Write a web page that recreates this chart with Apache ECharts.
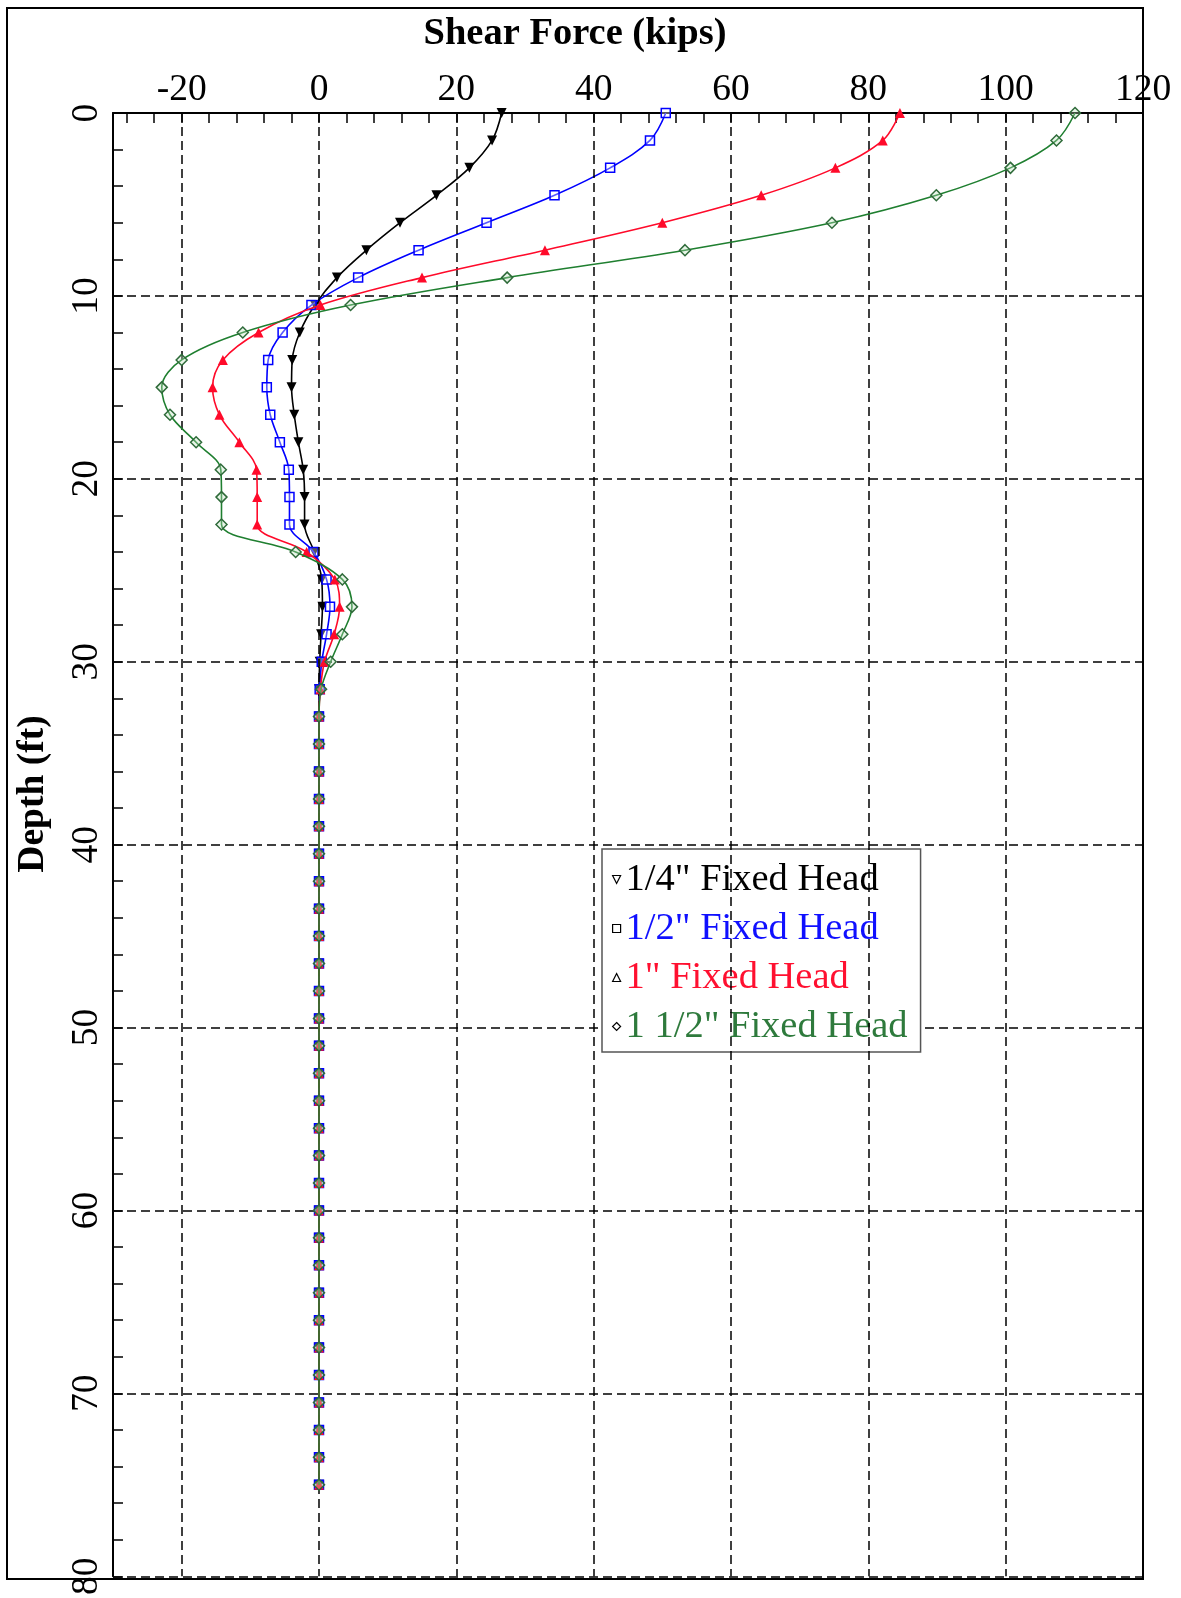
<!DOCTYPE html>
<html>
<head>
<meta charset="utf-8">
<script src="https://cdn.jsdelivr.net/npm/echarts@6/dist/echarts.min.js"></script>
<style>
html,body{margin:0;padding:0;background:#fff;}
#chart{width:1181px;height:1598px;}
</style>
</head>
<body>
<div id="chart"></div>
<script>
// ---- data ----
const depths = [0,1.5,3,4.5,6,7.5,9,10.5,12,13.5,15,16.5,18,19.5,21,22.5,24,25.5,27,28.5,30,31.5,33,34.5,36,37.5,39,40.5,42,43.5,45,46.5,48,49.5,51,52.5,54,55.5,57,58.5,60,61.5,63,64.5,66,67.5,69,70.5,72,73.5,75];

const quarterInch = [26.6,25.2,21.9,17.1,11.8,6.9,2.6,-0.6,-2.8,-3.9,-4.0,-3.6,-3.0,-2.3,-2.1,-2.1,-0.7,0.4,0.5,0.3,0.1,0.0,
  0,0,0,0,0,0,0,0,0,0,0,0,0,0,0,0,0,0,0,0,0,0,0,0,0,0,0,0,0];
const halfInch = [50.5,48.2,42.4,34.3,24.4,14.5,5.7,-1.1,-5.3,-7.4,-7.6,-7.1,-5.7,-4.4,-4.3,-4.3,-0.8,1.1,1.6,1.1,0.4,0.1,
  0,0,0,0,0,0,0,0,0,0,0,0,0,0,0,0,0,0,0,0,0,0,0,0,0,0,0,0,0];
const oneInch = [84.6,82.1,75.2,64.4,50.0,32.9,15.0,0.2,-8.8,-14.0,-15.5,-14.5,-11.6,-9.1,-9.0,-9.0,-1.8,2.3,3.0,2.2,0.8,0.2,
  0,0,0,0,0,0,0,0,0,0,0,0,0,0,0,0,0,0,0,0,0,0,0,0,0,0,0,0,0];
const oneHalfInch = [110.1,107.4,100.7,89.9,74.7,53.3,27.4,4.6,-11.1,-20.0,-22.9,-21.7,-17.9,-14.3,-14.2,-14.2,-3.4,3.4,4.8,3.4,1.7,0.3,
  0,0,0,0,0,0,0,0,0,0,0,0,0,0,0,0,0,0,0,0,0,0,0,0,0,0,0,0,0];

const seriesNames = ['1/4" Fixed Head','1/2" Fixed Head','1" Fixed Head','1 1/2" Fixed Head'];

const xLabelValues = [-20,0,20,40,60,80,100,120];
const xTickValues = [-28,-24,-20,-16,-12,-8,-4,0,4,8,12,16,20,24,28,32,36,40,44,48,52,56,60,64,68,72,76,80,84,88,92,96,100,104,108,112,116];
const xGridValues = [-20,0,20,40,60,80,100];

const xTitle = 'Shear Force (kips)';
const yTitle = 'Depth (ft)';

// ---- chart ----
const FONT = '"Liberation Serif", "Times New Roman", serif';
const pairs = vals => depths.map((d,i)=>[vals[i], d]);
const dash = [9,5];

const chart = echarts.init(document.getElementById('chart'), null, {renderer:'canvas'});

const commonSeries = {
  type:'line', smooth:0.35, animation:false, clip:true, showAllSymbol:true
};

const option = {
  backgroundColor:'#fff',
  animation:false,
  grid:{left:113, top:113, width:1030, height:1466, containLabel:false},
  graphic:[
    {type:'rect', z:-1, silent:true, shape:{x:7, y:8, width:1136, height:1571},
     style:{fill:null, stroke:'#000', lineWidth:2}},
    {type:'text', x:575, y:34, silent:true,
     style:{text:xTitle, font:'bold 38.5px ' + FONT, fill:'#000', align:'center', verticalAlign:'middle'}},
    {type:'text', x:33, y:794, rotation:Math.PI/2, silent:true,
     style:{text:yTitle, font:'bold 37.5px ' + FONT, fill:'#000', align:'center', verticalAlign:'middle'}}
  ],
  xAxis:{
    type:'value', position:'top', min:-30, max:120,
    axisLine:{show:true, onZero:false, lineStyle:{color:'#000', width:2}},
    axisTick:{show:true, inside:true, length:10, customValues:xTickValues, lineStyle:{color:'#000', width:1.5}},
    axisLabel:{show:true, customValues:xLabelValues, margin:4, color:'#000', fontSize:37.5, fontFamily:FONT},
    splitLine:{show:false}
  },
  yAxis:{
    type:'value', inverse:true, min:0, max:80, interval:10,
    axisLine:{show:true, onZero:false, lineStyle:{color:'#000', width:2}},
    axisTick:{show:true, inside:true, length:10, lineStyle:{color:'#000', width:1.5}},
    minorTick:{show:true, splitNumber:5, length:10, lineStyle:{color:'#000', width:1.5}},
    axisLabel:{rotate:90, margin:7, color:'#000', fontSize:37.5, fontFamily:FONT},
    splitLine:{show:true, lineStyle:{color:'#000', width:1.5, type:dash}}
  },
  legend:{
    orient:'vertical', left:602, top:849,
    padding:[11,13,6,10], itemGap:10, itemWidth:8, itemHeight:8,
    backgroundColor:'#fff', borderColor:'#555', borderWidth:1.5,
    textStyle:{fontSize:38.5, fontFamily:FONT},
    data:[
      {name:seriesNames[0], icon:'path://M0,0L10,0L5,10Z', itemStyle:{color:'#fff', borderColor:'#000', borderWidth:1.2}, textStyle:{color:'#000'}},
      {name:seriesNames[1], icon:'rect', itemStyle:{color:'#fff', borderColor:'#000', borderWidth:1.2}, textStyle:{color:'#1010ff'}},
      {name:seriesNames[2], icon:'triangle', itemStyle:{color:'#fff', borderColor:'#000', borderWidth:1.2}, textStyle:{color:'#ff1030'}},
      {name:seriesNames[3], icon:'diamond', itemStyle:{color:'#fff', borderColor:'#000', borderWidth:1.2}, textStyle:{color:'#2e7a3c'}}
    ]
  },
  series:[
    {type:'line', name:'grid', data:[], z:1, silent:true, legendHoverLink:false,
     markLine:{silent:true, symbol:'none', animation:false, label:{show:false},
       lineStyle:{color:'#000', width:1.5, type:dash},
       data: xGridValues.map(v=>({xAxis:v}))}},
    Object.assign({}, commonSeries, {
      name:seriesNames[0], data:pairs(quarterInch), z:3,
      symbol:'path://M0,0L10,0L5,10Z', symbolSize:10,
      lineStyle:{color:'#000', width:1.6},
      itemStyle:{color:'#000'}
    }),
    Object.assign({}, commonSeries, {
      name:seriesNames[1], data:pairs(halfInch), z:4,
      symbol:'rect', symbolSize:9,
      lineStyle:{color:'#0000ff', width:1.6},
      itemStyle:{color:'rgba(255,255,255,0.35)', borderColor:'#0000ff', borderWidth:1.5}
    }),
    Object.assign({}, commonSeries, {
      name:seriesNames[2], data:pairs(oneInch), z:5,
      symbol:'triangle', symbolSize:10,
      lineStyle:{color:'#ff0a2a', width:1.6},
      itemStyle:{color:'#ff0a2a'}
    }),
    Object.assign({}, commonSeries, {
      name:seriesNames[3], data:pairs(oneHalfInch), z:6,
      symbol:'diamond', symbolSize:11,
      lineStyle:{color:'#1f7f30', width:1.6},
      itemStyle:{color:'rgba(190,225,190,0.35)', borderColor:'#2f6b3a', borderWidth:1.5}
    })
  ]
};
chart.setOption(option);
</script>
</body>
</html>
